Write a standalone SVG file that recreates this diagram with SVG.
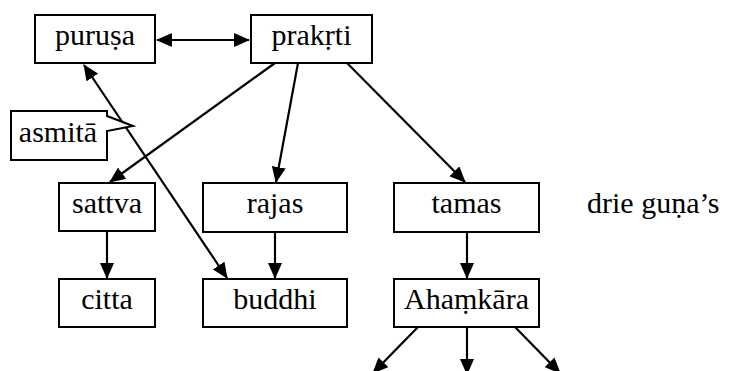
<svg xmlns="http://www.w3.org/2000/svg" width="730" height="371" viewBox="0 0 730 371">
<style>
.box{fill:#fff;stroke:#000;stroke-width:2}
.c{stroke:#000;stroke-width:2.2;fill:none}
</style>
<defs>
<marker id="ah" markerUnits="userSpaceOnUse" markerWidth="16" markerHeight="14" refX="15" refY="7" orient="auto-start-reverse" viewBox="0 0 16 14">
<path d="M0,0 L16,7 L0,14 Z" fill="#000"/>
</marker>
</defs>
<g id="connectors">
<line class="c" x1="157" y1="40" x2="249" y2="40" marker-start="url(#ah)" marker-end="url(#ah)"/>
<line class="c" x1="275" y1="63" x2="110" y2="182" marker-end="url(#ah)"/>
<line class="c" x1="298" y1="63" x2="276" y2="182" marker-end="url(#ah)"/>
<line class="c" x1="347" y1="63" x2="465" y2="182" marker-end="url(#ah)"/>
<line class="c" x1="84" y1="65" x2="227" y2="278" marker-start="url(#ah)" marker-end="url(#ah)"/>
<line class="c" x1="107" y1="230" x2="107" y2="278" marker-end="url(#ah)"/>
<line class="c" x1="275" y1="232" x2="275" y2="278" marker-end="url(#ah)"/>
<line class="c" x1="467" y1="232" x2="467" y2="278" marker-end="url(#ah)"/>
<line class="c" x1="418" y1="327" x2="373" y2="373" marker-end="url(#ah)"/>
<line class="c" x1="467" y1="327" x2="467" y2="374" marker-end="url(#ah)"/>
<line class="c" x1="515" y1="327" x2="560" y2="373" marker-end="url(#ah)"/>
</g>
<g id="purusa"><rect class="box" x="35" y="15" width="120" height="48"/><g><text font-family="Liberation Serif" font-size="30" text-anchor="middle" x="95" y="45">puruṣa</text></g></g>
<g id="prakrti"><rect class="box" x="251" y="15" width="121" height="48"/><g><text font-family="Liberation Serif" font-size="30" text-anchor="middle" x="311.5" y="45">prakṛti</text></g></g>
<g id="asmita"><path class="box" d="M11,111 H107 V116 L133,126 L107,131 V160 H11 Z"/><g><text font-family="Liberation Serif" font-size="30" text-anchor="middle" x="58" y="142">asmitā</text></g></g>
<g id="sattva"><rect class="box" x="59" y="183" width="96" height="48"/><g><text font-family="Liberation Serif" font-size="30" text-anchor="middle" x="107" y="213">sattva</text></g></g>
<g id="rajas"><rect class="box" x="203" y="183" width="144" height="49"/><g><text font-family="Liberation Serif" font-size="30" text-anchor="middle" x="275" y="213">rajas</text></g></g>
<g id="tamas"><rect class="box" x="394" y="183" width="145" height="49"/><g><text font-family="Liberation Serif" font-size="30" text-anchor="middle" x="466.5" y="213">tamas</text></g></g>
<g id="citta"><rect class="box" x="59" y="279" width="96" height="48"/><g><text font-family="Liberation Serif" font-size="30" text-anchor="middle" x="107" y="309">citta</text></g></g>
<g id="buddhi"><rect class="box" x="203" y="279" width="144" height="48"/><g><text font-family="Liberation Serif" font-size="30" text-anchor="middle" x="275" y="309">buddhi</text></g></g>
<g id="ahamkara"><rect class="box" x="394" y="279" width="145" height="48"/><g><text font-family="Liberation Serif" font-size="30" text-anchor="middle" x="466.5" y="309">Ahaṃkāra</text></g></g>
<g id="drie-gunas"><text font-family="Liberation Serif" font-size="30" x="587" y="213">drie guṇa’s</text></g>
</svg>
